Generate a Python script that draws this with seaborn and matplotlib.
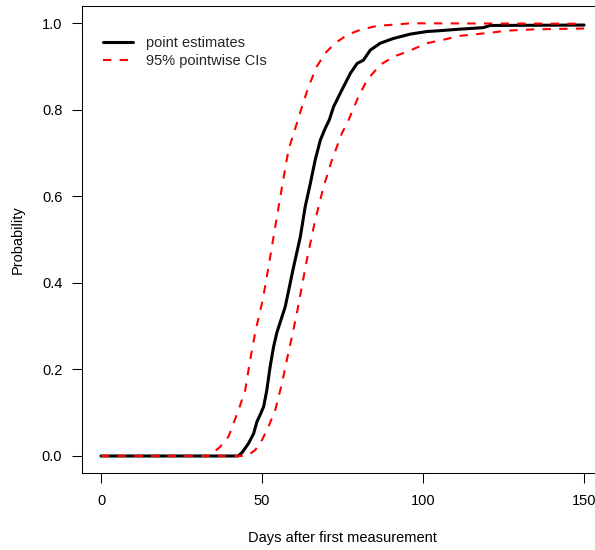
import matplotlib
matplotlib.use("Agg")
import matplotlib.pyplot as plt
import seaborn as sns
import pandas as pd

# ---- data ----
est_days = [0, 42.6, 43.8, 45.8, 47.4, 48.4, 49.4, 50.5, 51.5, 52.5, 53.6, 54.6, 57.2,
            59.8, 61.9, 63.4, 65.0, 66.5, 68.1, 69.6, 70.9, 72.2, 74.8, 77.4, 79.5, 81.5,
            83.6, 86.7, 90.8, 96.0, 101.2, 105.3, 110.5, 118.7, 120.8, 150]
est_vals = [0, 0, 0.008, 0.029, 0.052, 0.079, 0.095, 0.114, 0.153, 0.206, 0.253, 0.285, 0.345,
            0.437, 0.507, 0.576, 0.63, 0.684, 0.73, 0.757, 0.777, 0.807, 0.846, 0.884, 0.907, 0.915,
            0.938, 0.954, 0.965, 0.975, 0.981, 0.983, 0.986, 0.99, 0.995, 0.996]

upper_days = [0, 33.4, 37.0, 39.6, 42.7, 44.8, 46.3, 48.0, 50.2, 52.0, 54.1, 56.2, 58.2, 60.3,
              62.4, 64.4, 67.0, 69.6, 72.7, 76.4, 80.5, 85.7, 92.9, 96.0, 150]
upper_vals = [0, 0, 0.021, 0.045, 0.106, 0.153, 0.222, 0.29, 0.36, 0.437, 0.53, 0.622, 0.707, 0.757,
              0.807, 0.853, 0.9, 0.931, 0.954, 0.973, 0.985, 0.994, 0.998, 1.0, 0.999]

lower_days = [0, 44.8, 46.3, 47.9, 50.0, 52.0, 54.1, 56.2, 57.7, 59.3, 61.0, 63.9, 66.5,
              69.1, 71.7, 74.8, 76.9, 79.5, 82.6, 86.7, 90.8, 95.0, 101.2, 106.3, 111.5, 116.7,
              121.8, 126.0, 134.3, 150]
lower_vals = [0, 0, 0.005, 0.014, 0.037, 0.068, 0.106, 0.168, 0.222, 0.276, 0.337, 0.453, 0.545,
              0.622, 0.684, 0.746, 0.777, 0.823, 0.869, 0.904, 0.923, 0.934, 0.954, 0.962, 0.971, 0.975,
              0.979, 0.983, 0.986, 0.988]

x_ticks = [0, 50, 100, 150]
y_ticks = [0.0, 0.2, 0.4, 0.6, 0.8, 1.0]
y_tick_labels = ["0.0", "0.2", "0.4", "0.6", "0.8", "1.0"]
legend_labels = ["point estimates", "95% pointwise CIs"]
x_label = "Days after first measurement"
y_label = "Probability"

# ---- style ----
sns.set_style("white")
plt.rcParams["font.family"] = ["Liberation Sans", "DejaVu Sans"]
FS = 10.5

fig = plt.figure(figsize=(5.95, 5.5), dpi=100)
W, H = 595, 550
left, right, top, bottom = 81.7, 603.4, 6.0, 473.3
ax = fig.add_axes([left / W, 1 - bottom / H, (right - left) / W, (bottom - top) / H])

df_est = pd.DataFrame({"day": est_days, "p": est_vals})
df_up = pd.DataFrame({"day": upper_days, "p": upper_vals})
df_lo = pd.DataFrame({"day": lower_days, "p": lower_vals})

sns.lineplot(data=df_est, x="day", y="p", ax=ax, color="black", linewidth=2.2,
             estimator=None, sort=False, label=legend_labels[0])
sns.lineplot(data=df_up, x="day", y="p", ax=ax, color="#ff0000", linewidth=1.5,
             estimator=None, sort=False, dashes=False, label=legend_labels[1])
sns.lineplot(data=df_lo, x="day", y="p", ax=ax, color="#ff0000", linewidth=1.5,
             estimator=None, sort=False, dashes=False)
for ln in ax.get_lines()[1:]:
    ln.set_dashes((4, 4))

ax.set_xlim(-6, 156)
ax.set_ylim(-0.04, 1.04)
ax.set_xticks(x_ticks)
ax.set_xticklabels([str(t) for t in x_ticks], fontsize=FS)
ax.set_yticks(y_ticks)
ax.set_yticklabels(y_tick_labels, fontsize=FS)
ax.tick_params(axis="both", direction="out", length=7, width=0.75, color="black",
               labelcolor="black", bottom=True, left=True, top=False, right=False)
ax.tick_params(axis="x", pad=8)
ax.tick_params(axis="y", pad=7)
for s in ax.spines.values():
    s.set_visible(True)
    s.set_color("black")
    s.set_linewidth(0.75)

ax.set_xlabel(x_label, fontsize=FS, color="black")
ax.set_ylabel(y_label, fontsize=FS, color="black")
ax.xaxis.set_label_coords(0.5, (bottom - 538) / (bottom - top))
ax.xaxis.label.set_va("center")
ax.yaxis.set_label_coords((18 - left) / (right - left), 0.5)
ax.yaxis.label.set_va("center")

handles, labels = ax.get_legend_handles_labels()
handles[1].set_dashes((4, 4))
leg = ax.legend(handles=handles, labels=labels, loc="upper left",
                bbox_to_anchor=((103 - left) / (right - left), (bottom - 36.3) / (bottom - top)),
                frameon=False, fontsize=FS, handlelength=2.06, handletextpad=0.9,
                borderpad=0, borderaxespad=0, labelspacing=0.25)

fig.savefig("out.png", dpi=100, facecolor="white")
